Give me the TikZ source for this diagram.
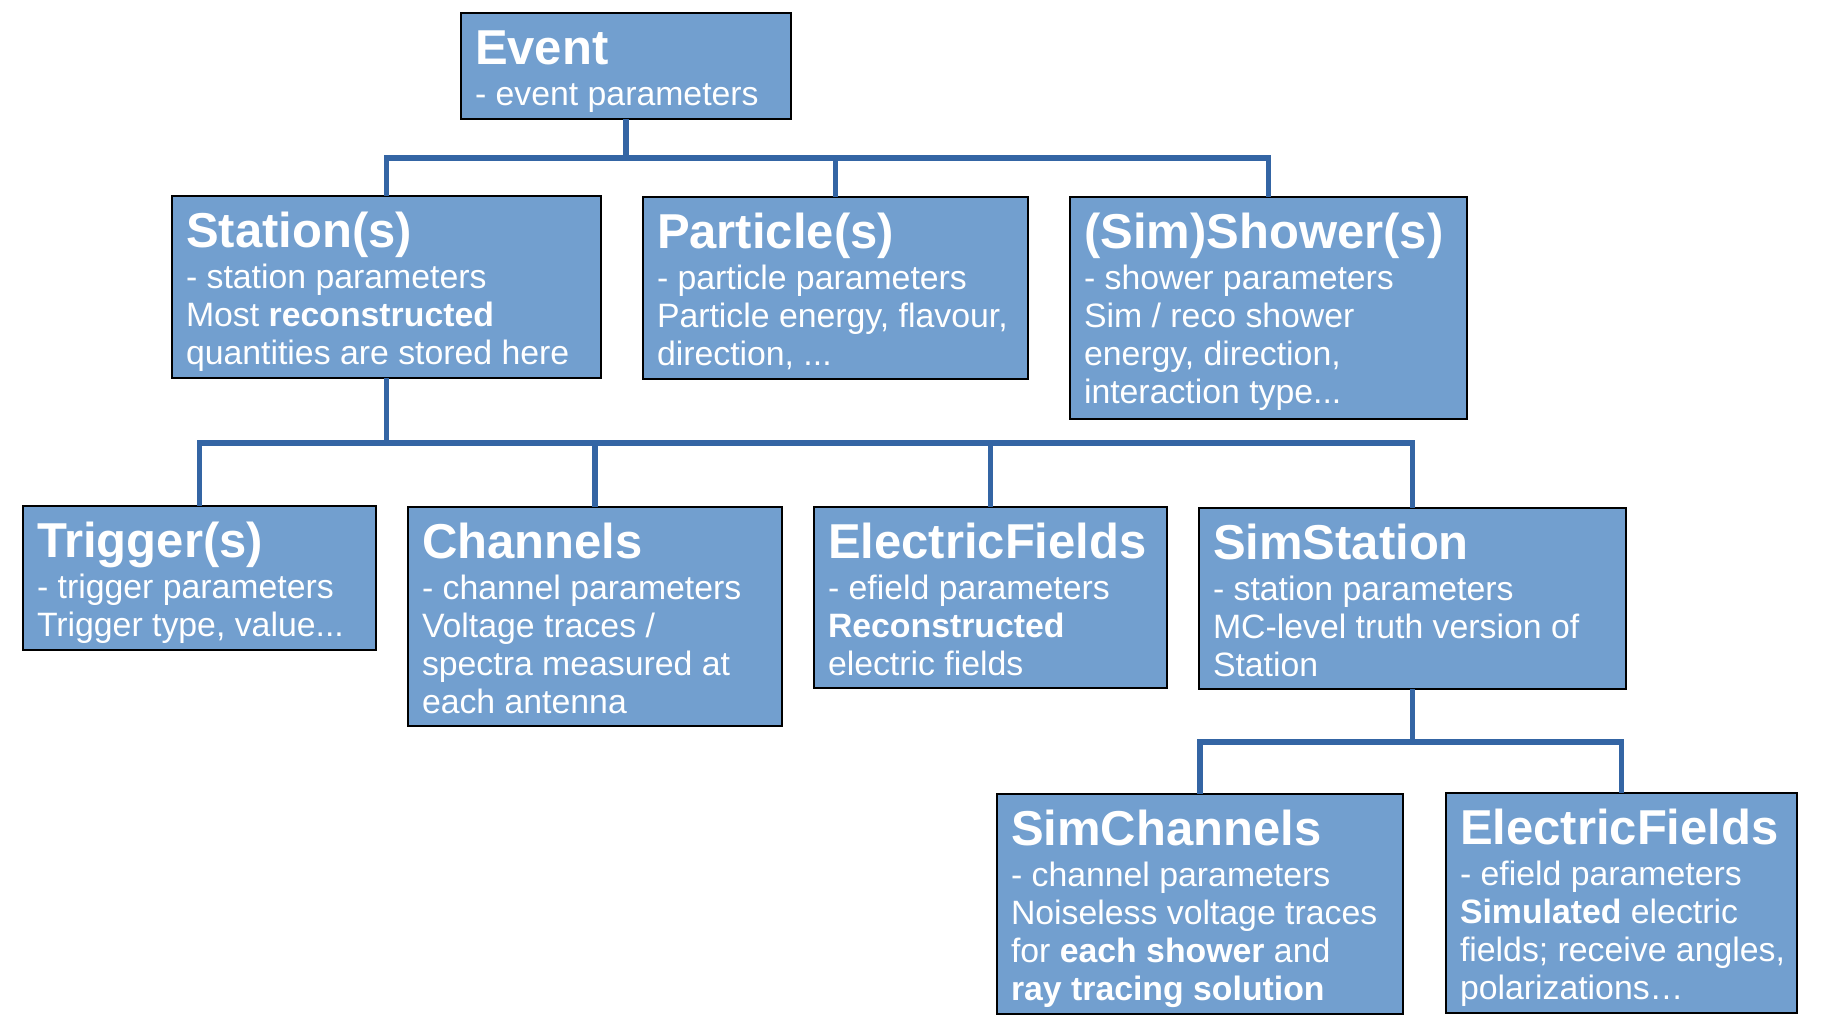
\documentclass[tikz,border=0pt]{standalone}
\usepackage{fontspec}
\setmainfont{Liberation Sans}
\definecolor{boxfill}{HTML}{729FCF}
\definecolor{connblue}{HTML}{3465A4}
\newcommand\ttlfont{\fontsize{24.5pt}{28pt}\selectfont\bfseries}
\newcommand\bdyfont{\fontsize{16.9pt}{19pt}\selectfont}
\newcommand\mkbox[4]{\parbox[c][0.5\dimexpr#2pt\relax][t]{0.5\dimexpr#1pt\relax}{\raggedright\leftskip=7pt\relax{\ttlfont\rule{0pt}{25.5pt}#3\par}\vskip1.9pt{\bdyfont#4\par}}}
\tikzset{
  box/.style={draw=black, line width=0.6pt, fill=boxfill, text=white, inner sep=0pt, outer sep=0pt, anchor=north west},
  conn/.style={draw=connblue, line width=2.6pt}
}
\begin{document}
\begin{tikzpicture}[x=0.5pt,y=-0.5pt]
\useasboundingbox[fill=white] (0,0) rectangle (1822,1028);
\coordinate (b1) at (0,158);
\coordinate (b2) at (0,443);
\coordinate (b3) at (0,742);
\node[box] (ev) at (461,13) {\mkbox{330}{106}{Event}{- event parameters}};
\node[box] (st) at (172,196) {\mkbox{429}{182}{Station(s)}{- station parameters\\Most \textbf{reconstructed}\\quantities are stored here}};
\node[box] (pa) at (643,197) {\mkbox{385}{182}{Particle(s)}{- particle parameters\\Particle energy, flavour,\\direction, ...}};
\node[box] (sh) at (1070,197) {\mkbox{397}{222}{(Sim)Shower(s)}{- shower parameters\\Sim / reco shower\\energy, direction,\\interaction type...}};
\node[box] (tr) at (23,506) {\mkbox{353}{144}{Trigger(s)}{- trigger parameters\\Trigger type, value...}};
\node[box] (ch) at (408,507) {\mkbox{374}{219}{Channels}{- channel parameters\\Voltage traces /\\spectra measured at\\each antenna}};
\node[box] (ef) at (814,507) {\mkbox{353}{181}{ElectricFields}{- efield parameters\\\textbf{Reconstructed}\\electric fields}};
\node[box] (ss) at (1199,508) {\mkbox{427}{181}{SimStation}{- station parameters\\MC-level truth version of\\Station}};
\node[box] (sc) at (997,794) {\mkbox{406}{220}{SimChannels}{- channel parameters\\Noiseless voltage traces\\for \textbf{each shower} and\\\textbf{ray tracing solution}}};
\node[box] (se) at (1446,793) {\mkbox{351}{220}{ElectricFields}{- efield parameters\\\textbf{Simulated} electric\\fields; receive angles,\\polarizations…}};
\draw[conn] (ev.south) -- (ev.south |- b1) -| (st.north);
\draw[conn] (ev.south) -- (ev.south |- b1) -| (pa.north);
\draw[conn] (ev.south) -- (ev.south |- b1) -| (sh.north);
\draw[conn] (st.south) -- (st.south |- b2) -| (tr.north);
\draw[conn] (st.south) -- (st.south |- b2) -| (ch.north);
\draw[conn] (st.south) -- (st.south |- b2) -| (ef.north);
\draw[conn] (st.south) -- (st.south |- b2) -| (ss.north);
\draw[conn] (ss.south) -- (ss.south |- b3) -| (sc.north);
\draw[conn] (ss.south) -- (ss.south |- b3) -| (se.north);
\end{tikzpicture}
\end{document}
